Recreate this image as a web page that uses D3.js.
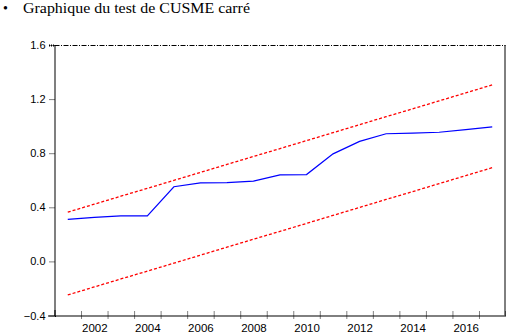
<!DOCTYPE html>
<html>
<head>
<meta charset="utf-8">
<script src="https://cdn.jsdelivr.net/npm/d3@7"></script>
<style>
  html, body { margin: 0; padding: 0; background: #fff; }
  svg { display: block; }
</style>
</head>
<body>
<svg id="chart" width="506" height="334"></svg>
<script>
// CUSUM of squares test, annual observations 2001-2017
const years = [2001, 2002, 2003, 2004, 2005, 2006, 2007, 2008, 2009,
               2010, 2011, 2012, 2013, 2014, 2015, 2016, 2017];
const cusumSq = [0.311, 0.326, 0.336, 0.336, 0.552, 0.581, 0.583, 0.593, 0.640,
                 0.642, 0.795, 0.887, 0.944, 0.948, 0.955, 0.975, 0.995];
const upperBound = [0.364, 0.423, 0.482, 0.540, 0.599, 0.658, 0.717, 0.776, 0.834,
                    0.893, 0.952, 1.011, 1.070, 1.128, 1.187, 1.246, 1.305];
const lowerBound = [-0.248, -0.189, -0.130, -0.072, -0.013, 0.046, 0.105, 0.164, 0.222,
                    0.281, 0.340, 0.399, 0.458, 0.516, 0.575, 0.634, 0.693];
const yTicks = [-0.4, 0.0, 0.4, 0.8, 1.2, 1.6];
const xLabelYears = [2002, 2004, 2006, 2008, 2010, 2012, 2014, 2016];
const title = "Graphique du test de CUSME carré";

const svg = d3.select("#chart");
const plot = { left: 54.5, right: 505.5, top: 45, bottom: 315.5 };

const x = d3.scaleLinear()
  .domain([years[0] - 0.5, years[years.length - 1] + 0.5])
  .range([plot.left, plot.right]);
const y = d3.scaleLinear()
  .domain([yTicks[0], yTicks[yTicks.length - 1]])
  .range([plot.bottom, plot.top]);

// Heading with bullet
svg.append("text")
  .attr("x", 3).attr("y", 13)
  .attr("font-family", "'Liberation Serif', 'Times New Roman', serif")
  .attr("font-size", 14)
  .text("•");
svg.append("text")
  .attr("x", 23).attr("y", 13)
  .attr("font-family", "'Liberation Serif', 'Times New Roman', serif")
  .attr("font-size", 14.5)
  .attr("textLength", 227)
  .attr("lengthAdjust", "spacingAndGlyphs")
  .attr("fill", "#000")
  .text(title);

// Frame: dash-dot top, solid right
svg.append("line")
  .attr("x1", plot.left).attr("x2", plot.right)
  .attr("y1", plot.top + 0.5).attr("y2", plot.top + 0.5)
  .attr("stroke", "#000").attr("stroke-width", 1)
  .attr("stroke-dasharray", "5,1.5,1,1.5");
svg.append("line")
  .attr("x1", plot.right - 0.5).attr("x2", plot.right - 0.5)
  .attr("y1", plot.top).attr("y2", plot.bottom)
  .attr("stroke", "#000").attr("stroke-width", 1);

// Y axis
const yAxis = svg.append("g")
  .attr("transform", `translate(${plot.left},0)`)
  .call(d3.axisLeft(y).tickValues(yTicks).tickSize(6).tickPadding(3)
    .tickFormat(d3.format(".1f")));
yAxis.select(".domain")
  .attr("stroke-width", 2).attr("stroke-dasharray", "1,1");
yAxis.selectAll(".tick line").attr("stroke-dasharray", "1,1");
yAxis.selectAll(".tick text")
  .attr("font-family", "'Liberation Sans', Arial, sans-serif")
  .attr("font-size", 11).attr("fill", "#000");

// X axis: ticks on year boundaries, labels at year centres
const boundaries = d3.range(years[0] + 0.5, years[years.length - 1], 1);
const xTicksG = svg.append("g")
  .attr("transform", `translate(0,${plot.bottom})`)
  .call(d3.axisBottom(x).tickValues(boundaries).tickSize(-5).tickFormat(""));
xTicksG.select(".domain")
  .attr("stroke-width", 2).attr("stroke-dasharray", "1,1");
xTicksG.selectAll(".tick line").attr("stroke-dasharray", "1,1").attr("y1", 3);

const xLabels = svg.append("g")
  .attr("transform", `translate(0,${plot.bottom})`)
  .call(d3.axisBottom(x).tickValues(xLabelYears).tickSize(0).tickPadding(8)
    .tickFormat(d3.format("d")));
xLabels.select(".domain").remove();
xLabels.selectAll(".tick text")
  .attr("font-family", "'Liberation Sans', Arial, sans-serif")
  .attr("font-size", 11.5).attr("fill", "#000");

// Series
const line = d3.line()
  .x((d, i) => x(years[i]))
  .y(d => y(d));

svg.append("path")
  .datum(upperBound)
  .attr("d", line)
  .attr("fill", "none").attr("stroke", "#ff0000")
  .attr("stroke-width", 1.3).attr("stroke-dasharray", "3,2");
svg.append("path")
  .datum(lowerBound)
  .attr("d", line)
  .attr("fill", "none").attr("stroke", "#ff0000")
  .attr("stroke-width", 1.3).attr("stroke-dasharray", "3,2");
svg.append("path")
  .datum(cusumSq)
  .attr("d", line)
  .attr("fill", "none").attr("stroke", "#0000ff")
  .attr("stroke-width", 1.2);
</script>
</body>
</html>
